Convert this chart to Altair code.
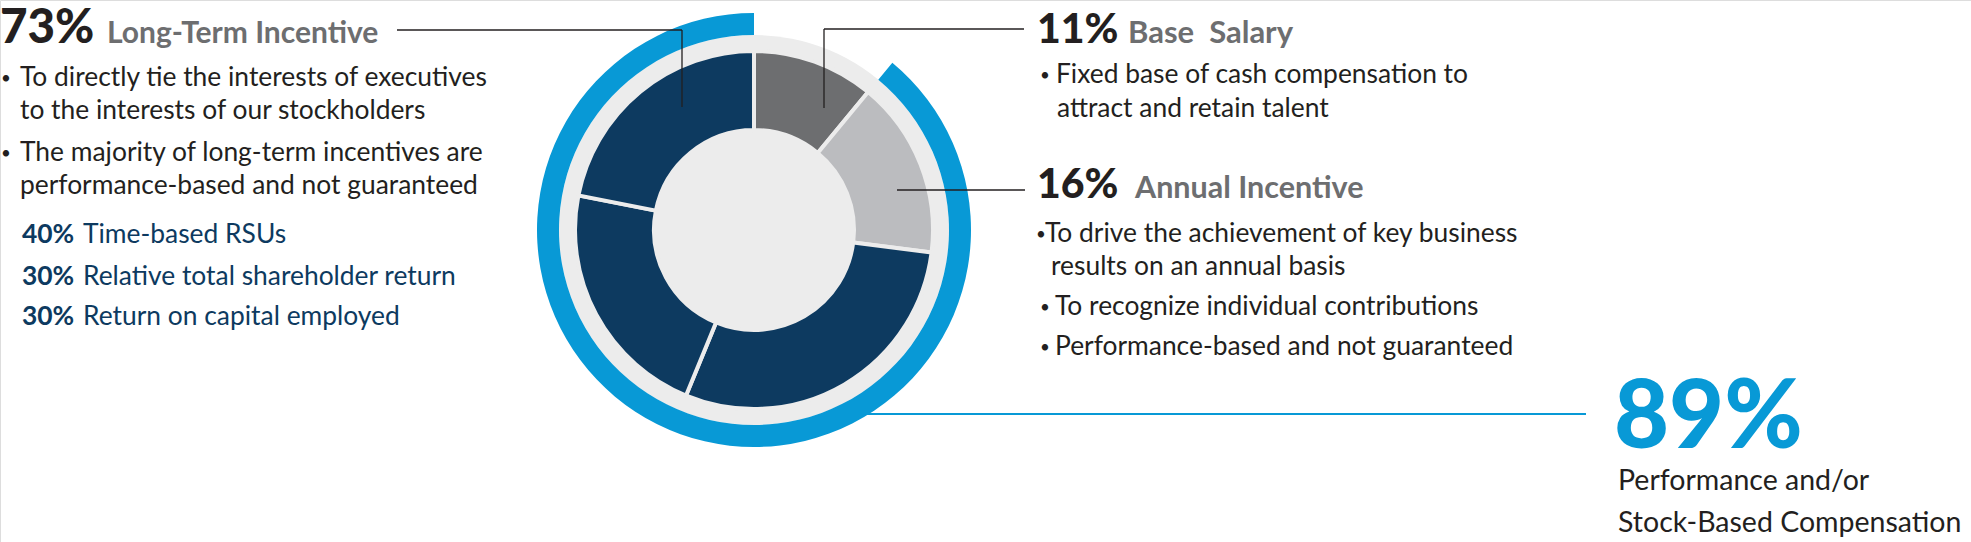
import altair as alt
import pandas as pd

# ---- data ----
segment_names = ["Base Salary", "Annual Incentive", "Time-based RSUs",
                 "Relative total shareholder return", "Return on capital employed"]
segment_values = [11, 16, 29.2, 21.9, 21.9]
segment_colors = ["#6d6e70", "#bbbcbf", "#0d3a60", "#0d3a60", "#0d3a60"]
perf_start = [11]
perf_end = [100]

W, H = 1971, 542
CX, CY = 754, 230
FONT = "Lato"
BLACK = "#231f20"
GRAY = "#6d6e70"
NAVY = "#0d3a60"
BLUE = "#0899d6"
BG = "#ececec"

seg_df = pd.DataFrame({"name": segment_names, "value": segment_values,
                       "idx": list(range(len(segment_names)))})
perf_df = pd.DataFrame({"start": perf_start, "end": perf_end})
one = pd.DataFrame({"a": [0]})

theta_scale = alt.Scale(domain=[0, 100], range=[0, 6.283185307])

disk = alt.Chart(one).mark_arc(radius=195, radius2=0, color=BG).encode(
    x=alt.value(CX), y=alt.value(CY),
    theta=alt.value(0), theta2=alt.value(6.2832))

perf = alt.Chart(perf_df).mark_arc(radius=217, radius2=195, color=BLUE).encode(
    x=alt.value(CX), y=alt.value(CY),
    theta=alt.Theta("start:Q", scale=theta_scale),
    theta2="end:Q")

segs = alt.Chart(seg_df).mark_arc(radius=179, radius2=100, stroke=BG, strokeWidth=4).encode(
    x=alt.value(CX), y=alt.value(CY),
    theta=alt.Theta("value:Q", stack=True, scale=theta_scale),
    order=alt.Order("idx:Q"),
    color=alt.Color("name:N", scale=alt.Scale(domain=segment_names, range=segment_colors),
                    legend=None))


def rule(x1, y1, x2, y2, color=BLACK, w=1.3):
    return alt.Chart(one).mark_rule(color=color, strokeWidth=w).encode(
        x=alt.value(x1), y=alt.value(y1), x2=alt.value(x2), y2=alt.value(y2))


def txt(x, y, s, size, color=BLACK, weight="normal"):
    return alt.Chart(one).mark_text(text=s, align="left", baseline="alphabetic",
                                    font=FONT, fontSize=size, fontWeight=weight,
                                    color=color).encode(x=alt.value(x), y=alt.value(y))


def bullet(x, y):
    return txt(x, y - 2, "•", 17, BLACK)


rules = [
    rule(397, 30, 682, 30), rule(682, 30, 682, 107),
    rule(824, 29, 1024, 29), rule(824, 29, 824, 108),
    rule(897, 190, 1025, 190),
    rule(850, 414, 1586, 414, color=BLUE, w=2.2),
]

body = 26.4
texts = [
    txt(0, 43, "73%", 47.5, BLACK, 900),
    txt(107, 43, "Long-Term Incentive", 30, GRAY, "bold"),
    bullet(1, 86), txt(20, 86, "To directly tie the interests of executives", body),
    txt(20, 119, "to the interests of our stockholders", body),
    bullet(1, 161), txt(20, 161, "The majority of long-term incentives are", body),
    txt(20, 194, "performance-based and not guaranteed", body),
    txt(22, 243, "40%", body, NAVY, "bold"), txt(83, 243, "Time-based RSUs", body, NAVY),
    txt(22, 285, "30%", body, NAVY, "bold"), txt(83, 285, "Relative total shareholder return", body, NAVY),
    txt(22, 325, "30%", body, NAVY, "bold"), txt(83, 325, "Return on capital employed", body, NAVY),

    txt(1037, 43, "11%", 41, BLACK, 900),
    txt(1128, 43, "Base\u00a0 Salary", 31, GRAY, "bold"),
    bullet(1040, 83), txt(1056, 83, "Fixed base of cash compensation to", body),
    txt(1057, 117, "attract and retain talent", body),

    txt(1037, 198, "16%", 41, BLACK, 900),
    txt(1135, 198, "Annual Incentive", 30.5, GRAY, "bold"),
    bullet(1036, 242), txt(1045, 242, "To drive the achievement of key business", body),
    txt(1051, 275, "results on an annual basis", body),
    bullet(1040, 315), txt(1055, 315, "To recognize individual contributions", body),
    bullet(1040, 355), txt(1055, 355, "Performance-based and not guaranteed", body),

    txt(1614, 448, "89%", 95, BLUE, 900),
    txt(1618, 490, "Performance and/or", 28.5, BLACK),
    txt(1618, 532, "Stock-Based Compensation", 28.5, BLACK),
]

chart = alt.layer(disk, perf, segs, *rules, *texts).properties(
    width=W, height=H, padding=0,
    autosize=alt.AutoSizeParams(type="none"),
).configure_view(stroke=None).configure(background="white")

chart.save("out.html", embed_options={"renderer": "svg", "actions": False})
